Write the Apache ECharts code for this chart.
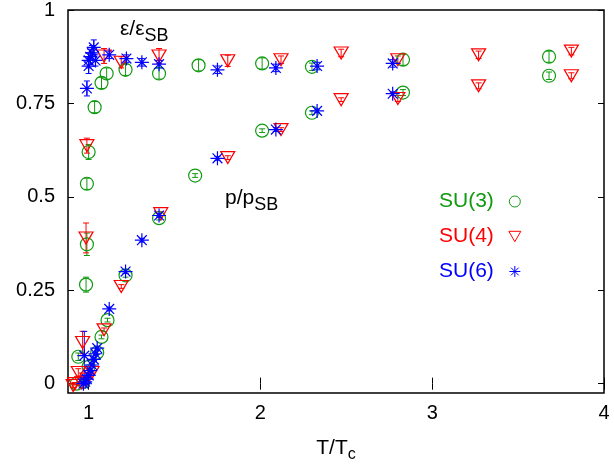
<!DOCTYPE html>
<html><head><meta charset="utf-8">
<script src="https://cdn.jsdelivr.net/npm/echarts@6/dist/echarts.min.js"></script>
<style>html,body{margin:0;padding:0;background:#fff}#c{width:614px;height:468px}</style>
</head><body><div id="c"></div>
<script>
// [T/Tc, value, error]
const su3Energy = [[0.94,0.072,0.01],[0.985,0.265,0.02],[0.99,0.373,0.03],[0.99,0.535,0.015],[1.0,0.62,0.02],[1.035,0.74,0.015],[1.075,0.805,0.015],[1.105,0.83,0.015],[1.215,0.84,0.015],[1.41,0.83,0.015],[1.64,0.852,0.015],[2.01,0.857,0.015],[2.30,0.848,0.01],[2.83,0.867,0.015],[3.68,0.875,0.015]];
const su3Pressure = [[0.93,0.0,0.003],[0.97,0.005,0.003],[1.0,0.045,0.005],[1.05,0.083,0.005],[1.075,0.125,0.005],[1.11,0.17,0.005],[1.215,0.29,0.005],[1.41,0.443,0.005],[1.62,0.557,0.005],[2.01,0.677,0.005],[2.30,0.725,0.005],[2.83,0.779,0.008],[3.68,0.824,0.01]];
const su4Energy = [[0.91,-0.005,0.005],[0.94,0.03,0.01],[0.965,0.11,0.03],[0.985,0.39,0.04],[0.99,0.637,0.02],[1.09,0.877,0.02],[1.19,0.86,0.015],[1.41,0.877,0.02],[1.81,0.864,0.015],[2.12,0.867,0.01],[2.47,0.885,0.01],[2.80,0.867,0.01],[3.27,0.88,0.01],[3.81,0.89,0.01]];
const su4Pressure = [[0.92,0.0,0.003],[0.96,0.002,0.003],[0.99,0.012,0.004],[1.02,0.03,0.004],[1.09,0.144,0.005],[1.19,0.26,0.005],[1.42,0.455,0.005],[1.81,0.605,0.005],[2.12,0.68,0.005],[2.47,0.76,0.005],[2.80,0.763,0.008],[3.27,0.797,0.008],[3.81,0.824,0.008]];
const su6Energy = [[0.975,0.075,0.065],[0.99,0.79,0.02],[1.0,0.85,0.02],[1.0,0.865,0.02],[1.01,0.875,0.02],[1.02,0.885,0.02],[1.03,0.9,0.02],[1.04,0.865,0.015],[1.12,0.88,0.01],[1.22,0.87,0.01],[1.31,0.86,0.01],[1.41,0.855,0.01],[1.75,0.84,0.01],[2.09,0.845,0.01],[2.33,0.85,0.01],[2.77,0.857,0.01]];
const su6Pressure = [[0.97,0.0,0.003],[0.98,0.005,0.003],[0.99,0.012,0.004],[1.0,0.022,0.004],[1.01,0.035,0.005],[1.02,0.05,0.005],[1.03,0.065,0.005],[1.04,0.08,0.005],[1.05,0.095,0.005],[1.12,0.20,0.005],[1.215,0.30,0.005],[1.31,0.384,0.005],[1.41,0.45,0.005],[1.75,0.603,0.005],[2.09,0.68,0.005],[2.33,0.73,0.005],[2.77,0.776,0.005]];
const xTicks = [1,2,3,4];
const yTicks = [0,0.25,0.5,0.75,1];
const groups = ['SU(3)','SU(4)','SU(6)'];

const colors = ['#109a10','#ff0000','#0000ff'];
const symbols = ['circle','path://M0,0 L10,0 L5,8.66 Z','path://M0,5 L10,5 M5,0 L5,10 M1.5,1.5 L8.5,8.5 M1.5,8.5 L8.5,1.5'];
const sizes = [13,[14,12],14];
const dataSets = [su3Energy.concat(su3Pressure), su4Energy.concat(su4Pressure), su6Energy.concat(su6Pressure)];
const FONT = 'Liberation Sans, Arial, sans-serif';

const series = [];
groups.forEach((g,i)=>{
  series.push({
    type:'custom', name:g+' errors', silent:true, z:3,
    data: dataSets[i],
    encode:{x:0,y:1},
    renderItem:(params,api)=>{
      const x=api.value(0), y=api.value(1), e=api.value(2);
      const lo=api.coord([x,y-e]), hi=api.coord([x,y+e]);
      const c=3;
      return {type:'group',children:[
        {type:'line',shape:{x1:lo[0],y1:lo[1],x2:hi[0],y2:hi[1]},style:{stroke:colors[i],lineWidth:1}},
        {type:'line',shape:{x1:lo[0]-c,y1:lo[1],x2:lo[0]+c,y2:lo[1]},style:{stroke:colors[i],lineWidth:1}},
        {type:'line',shape:{x1:hi[0]-c,y1:hi[1],x2:hi[0]+c,y2:hi[1]},style:{stroke:colors[i],lineWidth:1}}
      ]};
    }
  });
  series.push({
    type:'scatter', name:g, z:4,
    data: dataSets[i].map(d=>[d[0],d[1]]),
    symbol: symbols[i], symbolSize: sizes[i],
    itemStyle:{color:'rgba(0,0,0,0)', borderColor:colors[i], borderWidth:1.2, opacity:1},
    emphasis:{disabled:true}
  });
});

const chart = echarts.init(document.getElementById('c'));
chart.setOption({
  animation:false,
  grid:{left:68,right:10,top:9,bottom:75,show:true,borderColor:'#000',borderWidth:1.5,backgroundColor:'transparent'},
  xAxis:[{type:'value',min:0.88,max:4,
    axisLine:{show:false},splitLine:{show:false},
    axisTick:{inside:true,length:6,customValues:xTicks,lineStyle:{color:'#000'}},
    axisLabel:{customValues:xTicks,color:'#000',fontSize:20,fontFamily:FONT,margin:10},
    name:'T/T{s|c}',nameLocation:'middle',nameGap:40,
    nameTextStyle:{color:'#000',fontSize:21,fontFamily:FONT,rich:{s:{fontSize:16,padding:[14,0,0,0],fontFamily:FONT}}}
  },{type:'value',position:'top',min:0.88,max:4,
    axisLine:{show:false},splitLine:{show:false},axisLabel:{show:false},
    axisTick:{inside:true,length:6,customValues:xTicks,lineStyle:{color:'#000'}}}],
  yAxis:[{type:'value',min:-0.025,max:1,
    axisLine:{show:false},splitLine:{show:false},
    axisTick:{inside:true,length:6,customValues:yTicks,lineStyle:{color:'#000'}},
    axisLabel:{customValues:yTicks,color:'#000',fontSize:20,fontFamily:FONT,margin:13,
      formatter:v=>String(+v.toFixed(2))}
  },{type:'value',position:'right',min:-0.025,max:1,
    axisLine:{show:false},splitLine:{show:false},axisLabel:{show:false},
    axisTick:{inside:true,length:6,customValues:yTicks,lineStyle:{color:'#000'}}}],
  legend:{show:true,orient:'vertical',left:434,top:186,itemGap:14,align:'right',
    data:groups.map((g,i)=>({name:g,textStyle:{color:colors[i]},itemStyle:{borderWidth:1,color:'rgba(0,0,0,0)',borderColor:colors[i]}})),
    itemWidth:12,itemHeight:11,
    textStyle:{fontSize:21,fontFamily:FONT,padding:[0,10,0,0]},
    selectedMode:false},
  graphic:[
    {type:'text',left:120,top:19,style:{text:'ε/ε{s|SB}',fill:'#000',font:'21px '+FONT,
      rich:{s:{fontSize:18,padding:[14,0,0,0],fontFamily:FONT}}}},
    {type:'text',left:225,top:188,style:{text:'p/p{s|SB}',fill:'#000',font:'21px '+FONT,
      rich:{s:{fontSize:18,padding:[14,0,0,0],fontFamily:FONT}}}}
  ],
  series:series
});
</script></body></html>
